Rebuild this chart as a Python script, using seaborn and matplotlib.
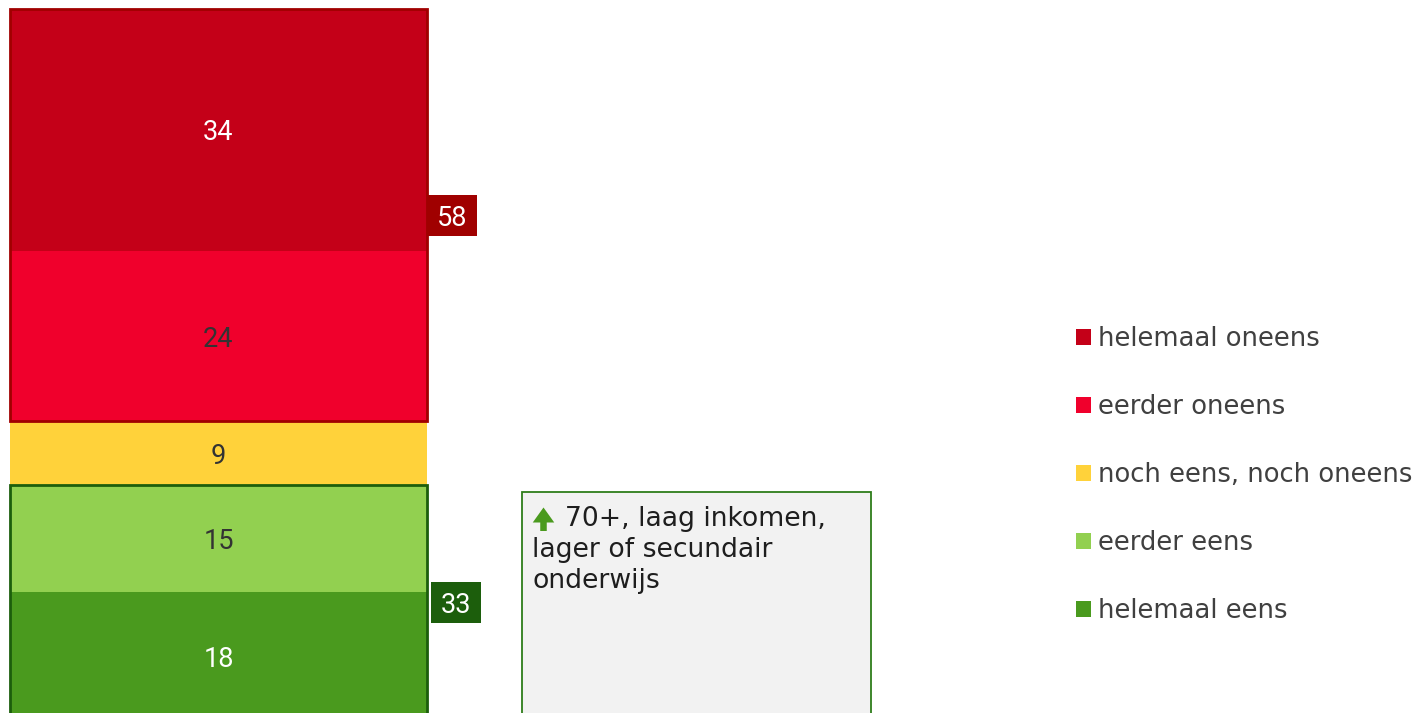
import matplotlib
matplotlib.use("Agg")
import matplotlib.pyplot as plt
from matplotlib.patches import Rectangle, Patch, FancyArrow
import seaborn as sns
import pandas as pd
import numpy as np

# Answer categories (bottom of the bar first) and their shares in %
categories = ["helemaal eens", "eerder eens", "noch eens, noch oneens",
              "eerder oneens", "helemaal oneens"]
values = [18, 15, 9, 24, 34]
colors = ["#4A9A1E", "#92D050", "#FFD23A", "#F0002C", "#C40018"]
value_text_colors = ["white", "#333333", "#333333", "#333333", "white"]

# Grouped totals shown next to the bar
disagree_idx = [3, 4]
agree_idx = [0, 1]
disagree_color = "#A00000"
agree_color = "#1C5E0C"

note_lines = ["70+, laag inkomen,", "lager of secundair", "onderwijs"]

sns.set_theme(style="white")
plt.rcParams["font.family"] = ["DejaVu Sans"]

W, H, DPI = 1424, 713, 100
fig = plt.figure(figsize=(W / DPI, H / DPI), dpi=DPI)
ax = fig.add_axes([0, 0, 1, 1])

# Stacked bar: draw cumulative totals from the tallest down so that each
# shorter bar covers the lower part of the previous one.
cum = np.cumsum(values)
bottoms = cum - np.array(values)
for i in reversed(range(len(values))):
    df = pd.DataFrame({"groep": ["totaal"], "pct": [cum[i]]})
    sns.barplot(data=df, x="groep", y="pct", color=colors[i], saturation=1,
                width=1.0, linewidth=0, ax=ax)

# Scale: 100 % spans about 712 px, bar bottom slightly below the frame
px_per_unit = 7.11
bar_bottom_px = 720
ax.set_ylim((bar_bottom_px - H) / px_per_unit, bar_bottom_px / px_per_unit)
bar_px = 417
bar_center_px = 218.5
ax.set_xlim(-bar_center_px / bar_px, (W - bar_center_px) / bar_px)
ax.axis("off")

num_font = ["Roboto", "DejaVu Sans"]

# Segment values
for i, v in enumerate(values):
    ax.text(0, bottoms[i] + v / 2, f"{v}", ha="center", va="center_baseline",
            fontsize=19.5, color=value_text_colors[i], family=num_font)

# Group outlines and group totals
def group_box(idx, color, gap_px):
    lo = bottoms[min(idx)]
    hi = cum[max(idx)]
    total = sum(values[j] for j in idx)
    ax.add_patch(Rectangle((-0.5, lo), 1.0, hi - lo, fill=False,
                           edgecolor=color, linewidth=2.0, zorder=5,
                           clip_on=False))
    mid = (lo + hi) / 2
    bw = 50 / bar_px
    bh = 41 / px_per_unit
    x0 = 0.5 + gap_px / bar_px
    ax.add_patch(Rectangle((x0, mid - bh / 2), bw, bh, facecolor=color,
                           edgecolor="none", zorder=6))
    ax.text(x0 + bw / 2, mid, f"{total}", ha="center", va="center_baseline",
            color="white", fontsize=19.5, family=num_font, zorder=7)

group_box(disagree_idx, disagree_color, 0)
group_box(agree_idx, agree_color, 4)

# Note box with profile information
fx = lambda px: px / W
fy = lambda py: 1 - py / H
note = Rectangle((fx(522), -0.05), fx(871) - fx(522), fy(492) + 0.05,
                 transform=fig.transFigure, facecolor="#F2F2F2",
                 edgecolor="#2E7D1A", linewidth=1.3, zorder=3)
fig.add_artist(note)
fig.add_artist(FancyArrow(5.435, (H - 531) / DPI, 0, 0.235, width=0.065,
                          head_width=0.215, head_length=0.15,
                          length_includes_head=True, color="#4A9A1E",
                          linewidth=0, transform=fig.dpi_scale_trans,
                          zorder=4))
line_step = 31
for k, line in enumerate(note_lines):
    x_px = 565 if k == 0 else 532
    fig.text(fx(x_px), fy(526 + k * line_step), line, fontsize=19.2,
             color="#1E1E1E", va="baseline", ha="left", zorder=4,
             family=["DejaVu Sans"])

# Legend, top item = top of the bar
handles = [Patch(facecolor=colors[i], edgecolor="none", label=categories[i])
           for i in reversed(range(len(values)))]
leg = fig.legend(handles=handles, loc="center left",
                 bbox_to_anchor=(fx(1076), fy(475)), frameon=False,
                 prop={"family": "DejaVu Sans", "size": 18.6},
                 handlelength=0.57, handleheight=0.57,
                 handletextpad=0.28, labelspacing=1.62, borderpad=0,
                 borderaxespad=0)
for t in leg.get_texts():
    t.set_color("#404040")

fig.savefig("out.png", dpi=DPI)
